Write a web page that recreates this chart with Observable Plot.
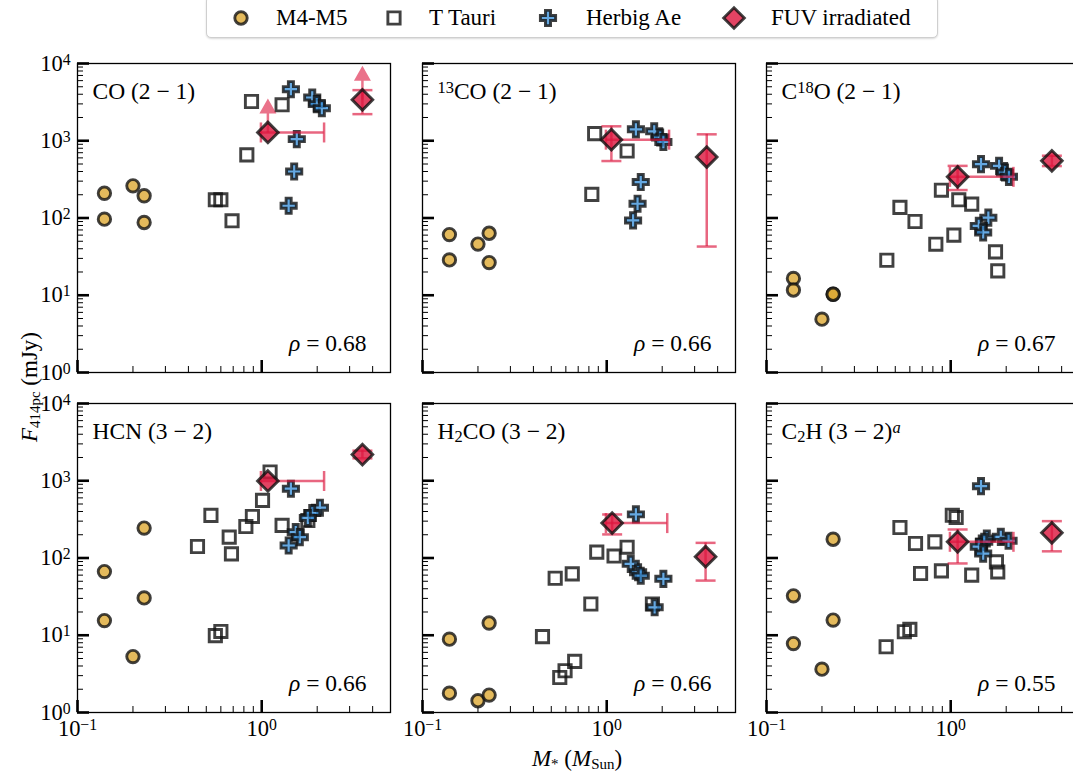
<!DOCTYPE html>
<html><head><meta charset="utf-8">
<script src="https://cdn.jsdelivr.net/npm/d3@7"></script>
<script src="https://cdn.jsdelivr.net/npm/@observablehq/plot@0.6"></script>
<style>
body{margin:0;background:#fff;}
#fig{position:relative;width:1073px;height:776px;overflow:hidden;font-family:"Liberation Serif",serif;color:#000;}
.panel{position:absolute;}
.panel svg{overflow:visible !important;background:transparent !important;}
.legend{position:absolute;left:206px;top:-4px;width:730px;height:40px;border:1px solid #cfcfcf;border-radius:5px;box-shadow:0 1px 2px rgba(0,0,0,0.15);background:#fff;}
.legend .sym{position:absolute;width:30px;height:30px;}
.legend .lab{position:absolute;top:8px;font-size:23px;line-height:26px;white-space:nowrap;}
.axlab{position:absolute;font-size:23px;white-space:nowrap;line-height:1;}
.axlab sub{font-size:65%;vertical-align:-0.25em;line-height:0;}
</style></head><body><div id="fig"></div>
<script>
// ---------------- data ----------------
const panelLabels = ["CO (2 − 1)", "¹³CO (2 − 1)", "C¹⁸O (2 − 1)", "HCN (3 − 2)", "H₂CO (3 − 2)", "C₂H (3 − 2)ᵃ"];
const rhoValues = [0.68, 0.66, 0.67, 0.66, 0.66, 0.55];
const groupNames = ["M4-M5", "T Tauri", "Herbig Ae", "FUV irradiated"];
const xTicks = [0.1, 1];
const xTickLabels = ["10⁻¹", "10⁰"];
const yTicks = [1, 10, 100, 1000, 10000];
const yTickLabels = ["10⁰", "10¹", "10²", "10³", "10⁴"];

// [stellar mass (Msun), flux (mJy)]
const coM4   = [[0.14,209],[0.14,96.6],[0.20,261],[0.23,194],[0.23,87.5]];
const co13M4 = [[0.14,61],[0.14,28.7],[0.20,46],[0.23,63.5],[0.23,26.5]];
const c18M4  = [[0.14,16.5],[0.14,11.7],[0.20,4.9],[0.23,10.3],[0.23,10.3]];
const hcnM4  = [[0.14,66.8],[0.14,15.5],[0.20,5.3],[0.23,244],[0.23,30.4]];
const h2coM4 = [[0.14,8.9],[0.14,1.78],[0.20,1.42],[0.23,14.4],[0.23,1.68]];
const c2hM4  = [[0.14,32.4],[0.14,7.8],[0.20,3.64],[0.23,175],[0.23,15.7]];

const coTT   = [[0.88,3220],[1.29,2920],[0.83,657],[0.56,172],[0.60,172],[0.69,92]];
const co13TT = [[0.86,1236],[1.29,736],[0.83,202]];
const c18TT  = [[0.89,229],[1.106,172],[1.30,151],[0.53,137],[0.64,90],[1.04,60],[0.83,45.8],[0.45,28.4],[1.75,36.5],[1.80,20.7]];
const hcnTT  = [[1.11,1300],[1.01,557],[0.53,356],[0.89,345],[0.82,256],[0.666,186],[0.448,141],[0.685,113],[1.29,264],[1.78,306],[0.56,9.9],[0.60,11.2]];
const h2coTT = [[0.883,119],[1.096,106],[1.29,138],[0.525,54.7],[0.65,62.3],[0.82,25.4],[0.448,9.6],[0.67,4.59],[0.594,3.47],[0.556,2.84],[1.77,25.4]];
const c2hTT  = [[1.02,358],[1.07,334],[0.53,248],[0.644,154],[0.82,162],[0.686,63],[0.89,68],[1.30,60],[1.77,89],[1.80,66],[0.446,7.1],[0.56,11.1],[0.60,11.9]];

const coHAe   = [[1.44,4650],[1.88,3630],[1.99,2980],[2.12,2640],[1.55,1050],[1.50,400],[1.40,144]];
const co13HAe = [[1.44,1406],[1.81,1324],[1.95,1100],[2.03,964],[1.53,292],[1.47,153],[1.39,93]];
const c18HAe  = [[1.46,498],[1.83,473],[1.97,388],[2.07,341],[1.60,101],[1.42,79],[1.50,65]];
const hcnHAe  = [[1.44,789],[2.07,448],[1.88,382],[1.78,330],[1.53,216],[1.61,186],[1.40,145]];
const h2coHAe = [[1.44,367],[1.35,84],[1.48,65.5],[1.53,59],[2.03,53.7],[1.82,23]];
const c2hHAe  = [[1.46,851],[1.57,179],[1.87,188],[2.06,167],[1.52,162],[1.42,140],[1.50,114]];

// FUV irradiated: m, f, optional mass range, flux range, lower-limit flag
const coFUV   = [{m:1.08,f:1280,mLo:0.99,mHi:2.18,lim:true},{m:3.52,f:3390,fLo:2210,fHi:4520,lim:true}];
const co13FUV = [{m:1.06,f:1033,mLo:0.99,mHi:2.18,fLo:546,fHi:1538},{m:3.49,f:615,fLo:42.7,fHi:1211}];
const c18FUV  = [{m:1.09,f:341,mLo:0.99,mHi:2.19,fLo:230,fHi:473},{m:3.54,f:550,fLo:470,fHi:640}];
const hcnFUV  = [{m:1.08,f:993,mLo:0.99,mHi:2.18},{m:3.52,f:2180,fLo:1950,fHi:2450}];
const h2coFUV = [{m:1.07,f:283,mLo:0.99,mHi:2.13,fLo:202,fHi:366},{m:3.44,f:104,fLo:51,fHi:157}];
const c2hFUV  = [{m:1.09,f:162,mLo:0.99,mHi:2.19,fLo:85,fHi:234},{m:3.54,f:212,fLo:122,fHi:300}];

const panelSets = [
  {m4: coM4, tt: coTT, hae: coHAe, fuv: coFUV},
  {m4: co13M4, tt: co13TT, hae: co13HAe, fuv: co13FUV},
  {m4: c18M4, tt: c18TT, hae: c18HAe, fuv: c18FUV},
  {m4: hcnM4, tt: hcnTT, hae: hcnHAe, fuv: hcnFUV},
  {m4: h2coM4, tt: h2coTT, hae: h2coHAe, fuv: h2coFUV},
  {m4: c2hM4, tt: c2hTT, hae: c2hHAe, fuv: c2hFUV}
];

// ---------------- styling / layout ----------------
const W = 313, H = 309;
const ML = 60, MR = 20, MT = 20, MB = 44;
const colLeft = [76.7, 421.7, 766];
const rowTop = [62.7, 403.3];
const FONT = 23.5;
const edge = {stroke: "#111", strokeOpacity: 0.8, strokeWidth: 2.9};
const cM4 = "#dca72e", cHAe = "#3a8fd8", cFUV = "#dc143c";
const rM4 = 6.2, rTT = 6.9, rHAe = 6.4, rFUV = 9.3;
const errStyle = {stroke: cFUV, strokeOpacity: 0.65, strokeWidth: 2.5};

const yMinor = [], xMinor = [];
for (let k = 0; k < 4; k++) for (let j = 2; j < 10; j++) yMinor.push(j * 10 ** k);
for (let j = 2; j < 10; j++) xMinor.push(j / 10);
for (let j = 2; j < 5; j++) xMinor.push(j);

const hCap = {draw(ctx) { ctx.moveTo(-10, 0); ctx.lineTo(10, 0); }};
const vCap = {draw(ctx) { ctx.moveTo(0, -10); ctx.lineTo(0, 10); }};
const upArrow = {draw(ctx) {
  ctx.moveTo(-1.25, 0); ctx.lineTo(1.25, 0); ctx.lineTo(1.25, -19); ctx.lineTo(-1.25, -19); ctx.closePath();
  ctx.moveTo(-8.5, -19); ctx.lineTo(8.5, -19); ctx.lineTo(0, -34); ctx.closePath();
}};

const fig = document.getElementById("fig");

function makePanel(i) {
  const col = i % 3, row = Math.floor(i / 3);
  const d = panelSets[i];
  const fuv = d.fuv;
  const withY = fuv.filter(p => p.fLo != null);
  const withX = fuv.filter(p => p.mLo != null);
  const capsY = withY.flatMap(p => [{m: p.m, f: p.fLo}, {m: p.m, f: p.fHi}]);
  const capsX = withX.flatMap(p => [{m: p.mLo, f: p.f}, {m: p.mHi, f: p.f}]);
  const lims = fuv.filter(p => p.lim);
  const marks = [
    Plot.tickY(yMinor, {y: v => v, insetRight: W - 6, stroke: "#000", strokeWidth: 1}),
    Plot.tickY(yTicks, {y: v => v, insetRight: W - 12, stroke: "#000", strokeWidth: 2.6}),
    Plot.tickX(xMinor, {x: v => v, insetTop: H - 6, stroke: "#000", strokeWidth: 1}),
    Plot.tickX(xTicks, {x: v => v, insetTop: H - 12, stroke: "#000", strokeWidth: 2.6}),
    Plot.frame({stroke: "#000", strokeWidth: 1.3}),
    Plot.dot(d.m4, {x: p => p[0], y: p => p[1], symbol: "circle", r: rM4, fill: cM4, fillOpacity: 0.78, ...edge}),
    Plot.dot(d.tt, {x: p => p[0], y: p => p[1], symbol: "square", r: rTT, fill: "none", ...edge}),
    Plot.dot(d.hae, {x: p => p[0], y: p => p[1], symbol: "cross", r: rHAe, fill: cHAe, fillOpacity: 0.78, ...edge}),
    Plot.ruleX(withY, {x: "m", y1: "fLo", y2: "fHi", ...errStyle}),
    Plot.ruleY(withX, {y: "f", x1: "mLo", x2: "mHi", ...errStyle}),
    Plot.dot(capsY, {x: "m", y: "f", symbol: hCap, r: 5, fill: "none", ...errStyle}),
    Plot.dot(capsX, {x: "m", y: "f", symbol: vCap, r: 5, fill: "none", ...errStyle}),
    Plot.dot(lims, {x: "m", y: "f", symbol: upArrow, r: 5, fill: cFUV, fillOpacity: 0.6, stroke: "none"}),
    Plot.dot(fuv, {x: "m", y: "f", symbol: "diamond2", r: rFUV, fill: cFUV, fillOpacity: 0.8, strokeLinejoin: "miter", ...edge}),
    Plot.text([panelLabels[i]], {text: t => t, frameAnchor: "top-left", textAnchor: "start", lineAnchor: "middle", dx: 15, dy: 28, fontSize: FONT, fill: "#000"}),
    Plot.text([rhoValues[i]], {text: r => "ρ = " + r.toFixed(2), frameAnchor: "bottom-right", textAnchor: "end", lineAnchor: "middle", dx: -24, dy: -29, fontSize: FONT, fill: "#000"})
  ];
  const xOpt = {type: "log", domain: [0.1, 5]};
  const yOpt = {type: "log", domain: [1, 10000]};
  if (col === 0) {
    marks.push(Plot.axisY(yTicks, {tickSize: 0, tickPadding: 7, tickFormat: v => yTickLabels[yTicks.indexOf(v)], fontSize: 22.5, fill: "#000"}));
  } else yOpt.axis = null;
  if (row === 1) {
    marks.push(Plot.axisX(xTicks, {tickSize: 0, tickPadding: 8, tickFormat: v => xTickLabels[xTicks.indexOf(v)], fontSize: 22.5, fill: "#000"}));
  } else xOpt.axis = null;
  const svg = Plot.plot({
    width: W + ML + MR, height: H + MT + MB,
    marginLeft: ML, marginRight: MR, marginTop: MT, marginBottom: MB,
    x: xOpt, y: yOpt,
    style: {fontFamily: "'Liberation Serif', serif", background: "transparent", overflow: "visible"},
    marks
  });
  svg.style.background = "transparent";
  svg.style.overflow = "visible";
  svg.style.maxWidth = "none";
  richify(svg);
  const div = document.createElement("div");
  div.className = "panel";
  div.style.left = (colLeft[col] - ML) + "px";
  div.style.top = (rowTop[row] - MT) + "px";
  div.style.width = (W + ML + MR) + "px";
  div.appendChild(svg);
  fig.appendChild(div);
}

// convert unicode super/subscripts into raised / lowered tspans; italicise math symbols
const supMap = {"⁰":"0","¹":"1","²":"2","³":"3","⁴":"4","⁵":"5","⁶":"6","⁷":"7","⁸":"8","⁹":"9","⁻":"−","ᵃ":"a"};
const subMap = {"₀":"0","₁":"1","₂":"2","₃":"3","₄":"4"};
const italicChars = new Set(["ρ", "ᵃ"]);
function richify(svg) {
  const ns = "http://www.w3.org/2000/svg";
  svg.querySelectorAll("text").forEach(t => {
    const targets = t.querySelectorAll("tspan").length ? [...t.querySelectorAll("tspan")] : [t];
    targets.forEach(el => {
      const s = el.textContent;
      if (![...s].some(c => supMap[c] || subMap[c] || italicChars.has(c))) return;
      el.textContent = "";
      const runs = [];
      for (const c of s) {
        const kind = (supMap[c] ? "sup" : subMap[c] ? "sub" : "n") + (italicChars.has(c) ? "i" : "");
        const ch = supMap[c] || subMap[c] || c;
        if (runs.length && runs[runs.length - 1].kind === kind) runs[runs.length - 1].s += ch;
        else runs.push({kind, s: ch});
      }
      for (const r of runs) {
        const ts = document.createElementNS(ns, "tspan");
        ts.textContent = r.s;
        if (r.kind.startsWith("sup")) { ts.setAttribute("font-size", "70%"); ts.setAttribute("baseline-shift", "38%"); }
        if (r.kind.startsWith("sub")) { ts.setAttribute("font-size", "70%"); ts.setAttribute("baseline-shift", "-18%"); }
        if (r.kind.endsWith("i")) ts.setAttribute("font-style", "italic");
        el.appendChild(ts);
      }
    });
  });
}

for (let i = 0; i < 6; i++) makePanel(i);

// ---------------- legend ----------------
const legend = document.createElement("div");
legend.className = "legend";
fig.appendChild(legend);
const legSyms = [
  {type: d3.symbolCircle, r: rM4, fill: cM4, fo: 0.78},
  {type: d3.symbolSquare, r: rTT, fill: "none", fo: 0},
  {type: d3.symbolCross, r: rHAe, fill: cHAe, fo: 0.78},
  {type: d3.symbolDiamond2, r: rFUV, fill: cFUV, fo: 0.8}
];
const symX = [34, 187, 341, 527];
const labX = [69, 222, 379, 564];
groupNames.forEach((name, k) => {
  const s = legSyms[k];
  const ns = "http://www.w3.org/2000/svg";
  const svg = document.createElementNS(ns, "svg");
  svg.setAttribute("class", "sym");
  svg.setAttribute("width", 30); svg.setAttribute("height", 30);
  svg.style.left = (symX[k] - 15) + "px";
  svg.style.top = (21 - 15) + "px";
  svg.style.overflow = "visible";
  const p = document.createElementNS(ns, "path");
  p.setAttribute("d", d3.symbol(s.type, Math.PI * s.r * s.r)());
  p.setAttribute("transform", "translate(15,15)");
  p.setAttribute("fill", s.fill);
  p.setAttribute("fill-opacity", s.fo);
  p.setAttribute("stroke", "#111");
  p.setAttribute("stroke-opacity", 0.8);
  p.setAttribute("stroke-width", 2.9);
  p.setAttribute("stroke-linejoin", "miter");
  svg.appendChild(p);
  legend.appendChild(svg);
  const lab = document.createElement("span");
  lab.className = "lab";
  lab.style.left = labX[k] + "px";
  lab.textContent = name;
  legend.appendChild(lab);
});

// ---------------- axis titles ----------------
const ylab = document.createElement("div");
ylab.className = "axlab";
ylab.innerHTML = "<i>F</i><sub>414pc</sub> (mJy)";
ylab.style.left = "29px"; ylab.style.top = "387px";
ylab.style.transform = "translate(-50%,-50%) rotate(-90deg)";
fig.appendChild(ylab);

const xlab = document.createElement("div");
xlab.className = "axlab";
xlab.innerHTML = "<i>M</i><sub>*</sub> (<i>M</i><sub>Sun</sub>)";
xlab.style.left = "577px"; xlab.style.top = "758px";
xlab.style.transform = "translate(-50%,-50%)";
fig.appendChild(xlab);
</script></body></html>
